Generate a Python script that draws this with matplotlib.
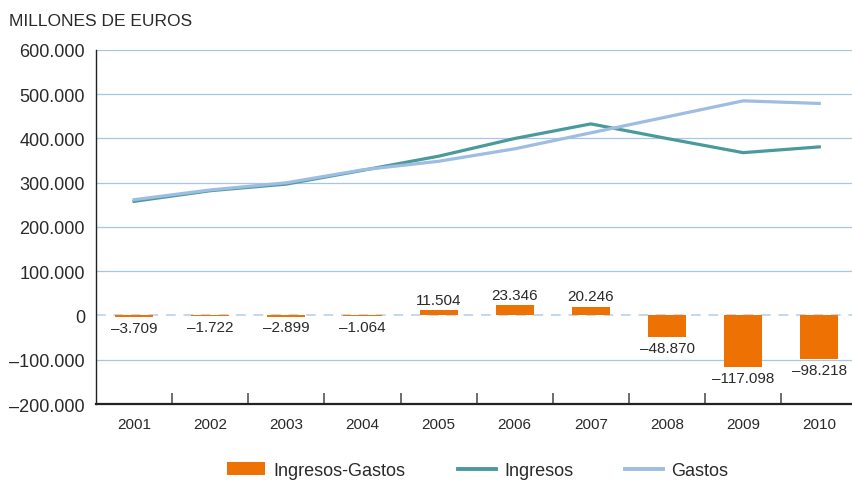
import matplotlib
matplotlib.use('Agg')
import matplotlib.pyplot as plt
from matplotlib.ticker import FixedLocator, FuncFormatter
from matplotlib.patches import Patch
from matplotlib.lines import Line2D

plt.rcParams['font.family'] = ['Liberation Sans', 'DejaVu Sans']

years = ['2001', '2002', '2003', '2004', '2005', '2006', '2007', '2008', '2009', '2010']
diferencia = [-3709, -1722, -2899, -1064, 11504, 23346, 20246, -48870, -117098, -98218]
ingresos = [258000, 282000, 297000, 328000, 360000, 400000, 433000, 400000, 368000, 381000]
gastos = [261700, 283700, 299900, 329100, 348500, 376700, 412800, 448900, 485100, 479200]

ORANGE = '#ee7203'
TEAL = '#4a9a9c'
LIGHT = '#9dbde2'
GRID = '#a9c5e4'
TXT = '#2a2a2a'


def miles(v):
    s = f"{abs(int(round(v))):,}".replace(',', '.')
    return ('\u2013' + s) if v < 0 else s


fig = plt.figure(figsize=(8.52, 4.81), dpi=100)
ax = fig.add_axes([0.1127, 0.158, 0.8873, 0.736])

x = list(range(len(years)))

for v in range(-100000, 700000, 100000):
    if v == 0:
        continue
    ax.axhline(v, color=GRID, linewidth=0.9, zorder=0)
ax.axhline(0, color='#c5d8ec', linewidth=1.4, linestyle=(0, (5, 4)), zorder=0)

ax.bar(x, diferencia, width=0.5, color=ORANGE, zorder=2)
ax.plot(x, ingresos, color=TEAL, linewidth=2.3, zorder=3)
ax.plot(x, gastos, color=LIGHT, linewidth=2.3, zorder=3)

for xi, v in zip(x, diferencia):
    if v >= 0:
        ax.text(xi, v + 7000, miles(v), ha='center', va='bottom', fontsize=11, color=TXT)
    else:
        ax.text(xi, v - 8000, miles(v), ha='center', va='top', fontsize=11, color=TXT)

ax.set_xlim(-0.5, 9.43)
ax.set_ylim(-200000, 600000)
ax.yaxis.set_major_locator(FixedLocator(range(-200000, 700000, 100000)))
ax.yaxis.set_major_formatter(FuncFormatter(lambda v, p: miles(v)))
ax.tick_params(axis='y', length=0, labelsize=13, colors=TXT, pad=8)

ax.set_xticks(x)
ax.set_xticklabels(years)
ax.tick_params(axis='x', which='major', length=0, labelsize=11, colors=TXT, pad=9)
ax.xaxis.set_minor_locator(FixedLocator([i + 0.5 for i in range(9)]))
ax.tick_params(axis='x', which='minor', direction='in', length=8, width=1.2, color='#555555')

for s in ['top', 'right']:
    ax.spines[s].set_visible(False)
ax.spines['left'].set_color('#222222')
ax.spines['bottom'].set_color('#222222')
ax.spines['left'].set_linewidth(1.0)
ax.spines['bottom'].set_linewidth(1.6)

fig.text(0.01, 0.955, 'MILLONES DE EUROS', fontsize=12.5, color=TXT, va='center')

handles = [Patch(facecolor=ORANGE, edgecolor='none'),
           Line2D([0], [0], color=TEAL, linewidth=2.8),
           Line2D([0], [0], color=LIGHT, linewidth=2.8)]
fig.legend(handles, ['Ingresos-Gastos', 'Ingresos', 'Gastos'], loc='center',
           bbox_to_anchor=(0.561, 0.02), ncol=3, frameon=False, fontsize=13,
           handlelength=2.1, handleheight=0.7, columnspacing=2.9, handletextpad=0.45,
           labelcolor=TXT)

fig.savefig('out.png', dpi=100)
